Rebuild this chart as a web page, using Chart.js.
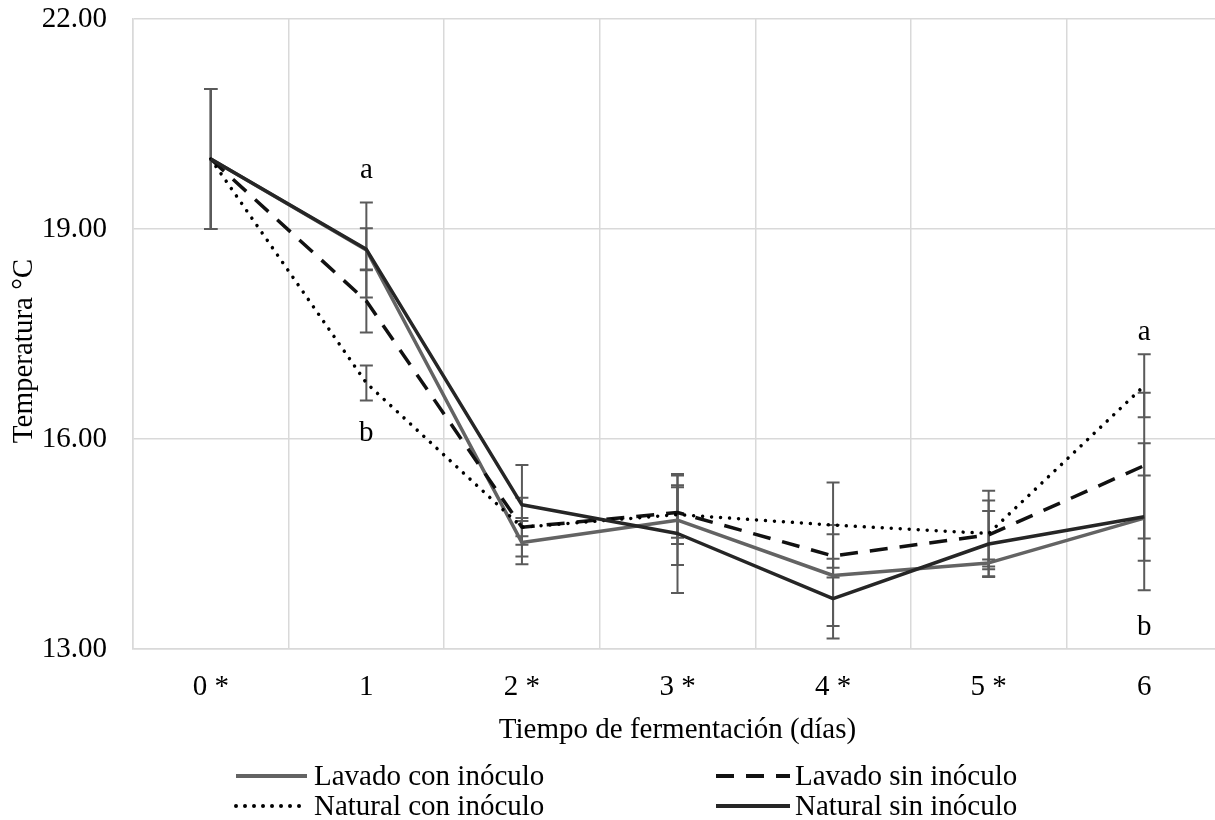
<!DOCTYPE html>
<html>
<head>
<meta charset="utf-8">
<script src="https://cdn.jsdelivr.net/npm/chart.js@4.4.1/dist/chart.umd.min.js"></script>
<style>
  html, body { margin: 0; padding: 0; background: #fff; overflow: hidden; }
  #wrap { width: 1225px; height: 820px; }
</style>
</head>
<body>
<div id="wrap"><canvas id="chart" width="1225" height="820"></canvas></div>
<script>
// días de fermentación
const days = ["0 *", "1", "2 *", "3 *", "4 *", "5 *", "6"];

// temperatura media (°C) por tratamiento
const lavadoCon = [20.0, 18.70, 14.52, 14.84, 14.05, 14.23, 14.87];
const lavadoSin = [20.0, 17.97, 14.74, 14.95, 14.33, 14.63, 15.62];
const naturalCon = [20.0, 16.80, 14.74, 14.92, 14.77, 14.65, 16.76];
const naturalSin = [20.0, 18.71, 15.06, 14.65, 13.72, 14.50, 14.89];

// barras de error (±)
const errLavadoCon = [1.0, 0.68, 0.31, 0.64, 0.72, 0.05, 0.61];
const errLavadoSin = [1.0, 0.45, 0.42, 0.36, 0.31, 0.49, 1.04];
const errNaturalCon = [1.0, 0.25, 0.13, 0.42, 0.61, 0.61, 0.45];
const errNaturalSin = [1.0, 0.30, 0.57, 0.85, 0.57, 0.47, 1.05];

// eje Y
const yMin = 13, yMax = 22, yStep = 3;

// letras de significancia
const letterText = ["a", "b", "a", "b"];
const letterDay = [1, 1, 6, 6];
const letterValue = [19.73, 15.97, 17.41, 13.2];

const FONT = "'Liberation Serif', 'Times New Roman', serif";
Chart.defaults.font.family = FONT;
Chart.defaults.font.size = 29;
Chart.defaults.color = "#000";

const series = [
  { label: "Lavado con inóculo", data: lavadoCon, err: errLavadoCon, color: "#636363", dash: [], cap: "butt", order: 4 },
  { label: "Lavado sin inóculo", data: lavadoSin, err: errLavadoSin, color: "#111111", dash: [18, 12], cap: "butt", order: 3 },
  { label: "Natural con inóculo", data: naturalCon, err: errNaturalCon, color: "#000000", dash: [0.001, 9], cap: "round", order: 2 },
  { label: "Natural sin inóculo", data: naturalSin, err: errNaturalSin, color: "#262626", dash: [], cap: "butt", order: 1 },
];

// barras de error debajo de las líneas
const errorBars = {
  id: "errorBars",
  beforeDatasetsDraw(chart) {
    const { ctx, scales: { x, y } } = chart;
    ctx.save();
    ctx.strokeStyle = "#5a5a5a";
    ctx.lineWidth = 2;
    series.forEach(s => {
      s.data.forEach((v, i) => {
        const px = x.getPixelForValue(i);
        const top = y.getPixelForValue(v + s.err[i]);
        const bot = y.getPixelForValue(v - s.err[i]);
        ctx.beginPath();
        ctx.moveTo(px, top); ctx.lineTo(px, bot);
        ctx.moveTo(px - 6.5, top); ctx.lineTo(px + 6.5, top);
        ctx.moveTo(px - 6.5, bot); ctx.lineTo(px + 6.5, bot);
        ctx.stroke();
      });
    });
    ctx.restore();
  }
};

// letras, título del eje Y y leyenda en dos columnas
const extras = {
  id: "extras",
  afterDraw(chart) {
    const { ctx, scales: { x, y } } = chart;
    ctx.save();
    ctx.font = "29px " + FONT;
    ctx.fillStyle = "#000";
    ctx.textBaseline = "alphabetic";

    ctx.textAlign = "center";
    letterText.forEach((t, i) => {
      ctx.fillText(t, x.getPixelForValue(letterDay[i]), y.getPixelForValue(letterValue[i]));
    });

    ctx.save();
    ctx.translate(32, 351);
    ctx.rotate(-Math.PI / 2);
    ctx.fillText("Temperatura °C", 0, 0);
    ctx.restore();

    const cols = [[236, 307, 314], [716, 790, 795]];
    const rows = [776, 806];
    series.forEach((s, i) => {
      const [x0, x1, tx] = cols[i % 2];
      const ly = rows[Math.floor(i / 2)];
      ctx.beginPath();
      ctx.strokeStyle = s.color;
      ctx.lineWidth = 4;
      ctx.lineCap = s.cap;
      ctx.setLineDash(s.dash);
      ctx.moveTo(x0, ly); ctx.lineTo(x1, ly);
      ctx.stroke();
      ctx.setLineDash([]);
      ctx.textAlign = "left";
      ctx.fillText(s.label, tx, ly + 9);
    });
    ctx.restore();
  }
};

new Chart(document.getElementById("chart").getContext("2d"), {
  type: "line",
  data: {
    labels: days,
    datasets: series.map(s => ({
      label: s.label,
      data: s.data,
      borderColor: s.color,
      backgroundColor: s.color,
      borderWidth: 3.5,
      borderDash: s.dash,
      borderCapStyle: s.cap,
      borderJoinStyle: "round",
      pointRadius: 0,
      tension: 0,
      fill: false,
      order: s.order
    }))
  },
  options: {
    responsive: false,
    animation: false,
    devicePixelRatio: 1,
    layout: { padding: { top: 19, right: 3, left: 0, bottom: 0 } },
    plugins: {
      legend: { display: false },
      tooltip: { enabled: false }
    },
    scales: {
      x: {
        offset: true,
        grid: { offset: true, color: "#d9d9d9", lineWidth: 1.5, drawTicks: false },
        border: { color: "#d9d9d9", width: 1.5 },
        ticks: { padding: 21, maxRotation: 0, autoSkip: false },
        title: {
          display: true,
          text: "Tiempo de fermentación (días)",
          padding: { top: 0, bottom: 72 }
        },
        afterFit(scale) { scale.height = 171; }
      },
      y: {
        min: yMin,
        max: yMax,
        grid: { color: "#d9d9d9", lineWidth: 1.5, drawTicks: false },
        border: { color: "#d9d9d9", width: 1.5 },
        ticks: { stepSize: yStep, padding: 26, callback: v => v.toFixed(2) },
        afterFit(scale) {
          scale.width = 133;
          scale.paddingTop = 0;
          scale.paddingBottom = 0;
        }
      }
    }
  },
  plugins: [errorBars, extras]
});
</script>
</body>
</html>
